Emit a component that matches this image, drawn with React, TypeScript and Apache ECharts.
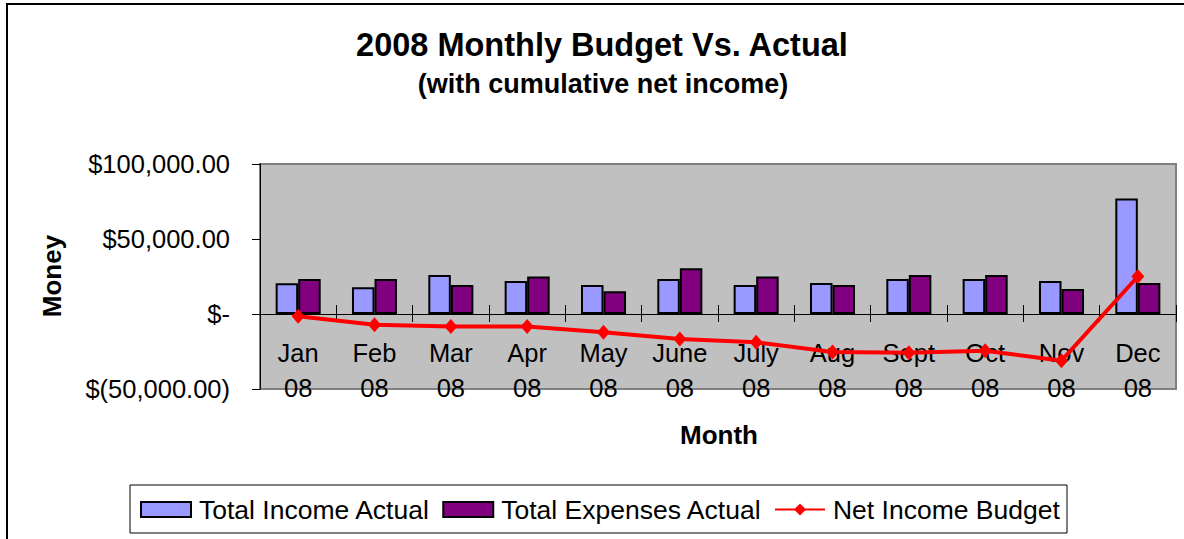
import React, { useEffect, useRef } from "react";
import * as echarts from "echarts";

const months = ["Jan", "Feb", "Mar", "Apr", "May", "June", "July", "Aug", "Sept", "Oct", "Nov", "Dec"];
const yearLabel = "08";
const incomeActual = [20500, 17900, 26000, 22000, 19400, 23400, 19400, 20700, 23400, 23400, 22000, 77000];
const expensesActual = [23400, 23400, 19400, 25000, 15200, 30500, 25000, 19400, 26000, 26000, 16600, 20700];
const netIncomeBudget = [-1500, -7100, -8400, -8400, -12100, -16600, -18800, -25400, -25800, -24500, -31100, 25000];
const yTicks = [-50000, 0, 50000, 100000];

const FONT = "'Liberation Sans', Arial, sans-serif";

function money(v: number): string {
  if (v === 0) return "$-";
  const s = Math.abs(v).toLocaleString("en-US", { minimumFractionDigits: 2, maximumFractionDigits: 2 });
  return v < 0 ? `$(${s})` : `$${s}`;
}

export default function App() {
  const ref = useRef<HTMLDivElement>(null);
  useEffect(() => {
    if (!ref.current) return;
    const chart = echarts.init(ref.current, undefined, { renderer: "svg" });
    const cats = months.map((m) => `${m}\n${yearLabel}`);
    chart.setOption({
      animation: false,
      backgroundColor: "#ffffff",
      textStyle: { fontFamily: FONT, color: "#000" },
      grid: {
        left: 260,
        top: 164,
        width: 916,
        height: 225,
        show: true,
        backgroundColor: "#C0C0C0",
        borderColor: "#808080",
        borderWidth: 2,
        containLabel: false,
      },
      xAxis: [
        {
          type: "category",
          data: cats,
          position: "bottom",
          offset: -75,
          axisLine: { onZero: false, lineStyle: { color: "#000", width: 1 } },
          axisTick: { show: true, length: 8, lineStyle: { color: "#000" } },
          axisLabel: {
            color: "#000",
            fontFamily: FONT,
            fontSize: 25.5,
            lineHeight: 35,
            margin: 21,
            interval: 0,
          },
          splitLine: { show: false },
          z: 3,
        },
        {
          type: "category",
          data: cats,
          position: "bottom",
          offset: -75,
          axisLine: { show: false, onZero: false },
          axisTick: { show: true, inside: true, length: 9, lineStyle: { color: "#000" } },
          axisLabel: { show: false },
          splitLine: { show: false },
        },
      ],
      yAxis: {
        type: "value",
        min: yTicks[0],
        max: yTicks[yTicks.length - 1],
        interval: 50000,
        axisLine: { show: true, lineStyle: { color: "#000", width: 1 } },
        axisTick: { show: true, length: 8, lineStyle: { color: "#000" } },
        axisLabel: {
          color: "#000",
          fontFamily: FONT,
          fontSize: 25.5,
          margin: 30,
          formatter: (v: number) => money(v),
        },
        splitLine: { show: false },
      },
      legend: {
        left: 140,
        top: 496,
        padding: 0,
        itemWidth: 50,
        itemHeight: 15,
        itemGap: 12,
        textStyle: { fontFamily: FONT, fontSize: 26.5, color: "#000", padding: [0, 0, 0, 3] },
        data: [
          { name: "Total Income Actual", icon: "rect" },
          { name: "Total Expenses Actual", icon: "rect" },
          { name: "Net Income Budget" },
        ],
      },
      graphic: [
        {
          type: "rect",
          z: -10,
          silent: true,
          shape: { x: 7, y: 4, width: 1300, height: 700 },
          style: { fill: "none", stroke: "#000", lineWidth: 2 },
        },
        {
          type: "rect",
          z: -5,
          silent: true,
          shape: { x: 130, y: 485, width: 937, height: 48 },
          style: { fill: "#fff", stroke: "#000", lineWidth: 1 },
        },
        {
          type: "text",
          x: 602,
          y: 45,
          style: {
            text: "2008 Monthly Budget Vs. Actual",
            font: `bold 32.5px ${FONT}`,
            fill: "#000",
            textAlign: "center",
            textVerticalAlign: "middle",
          },
        },
        {
          type: "text",
          x: 603,
          y: 84,
          style: {
            text: "(with cumulative net income)",
            font: `bold 27px ${FONT}`,
            fill: "#000",
            textAlign: "center",
            textVerticalAlign: "middle",
          },
        },
        {
          type: "text",
          x: 52,
          y: 276,
          rotation: Math.PI / 2,
          style: {
            text: "Money",
            font: `bold 26px ${FONT}`,
            fill: "#000",
            textAlign: "center",
            textVerticalAlign: "middle",
          },
        },
        {
          type: "text",
          x: 719,
          y: 435,
          style: {
            text: "Month",
            font: `bold 26px ${FONT}`,
            fill: "#000",
            textAlign: "center",
            textVerticalAlign: "middle",
          },
        },
      ],
      series: [
        {
          name: "Total Income Actual",
          type: "bar",
          data: incomeActual,
          barGap: "0%",
          barCategoryGap: "41%",
          itemStyle: { color: "#9999FF", borderColor: "#000", borderWidth: 2 },
        },
        {
          name: "Total Expenses Actual",
          type: "bar",
          data: expensesActual,
          barGap: "0%",
          barCategoryGap: "41%",
          itemStyle: { color: "#800080", borderColor: "#000", borderWidth: 2 },
        },
        {
          name: "Net Income Budget",
          type: "line",
          data: netIncomeBudget,
          z: 5,
          symbol: "diamond",
          symbolSize: [13, 15],
          lineStyle: { color: "#FF0000", width: 4 },
          itemStyle: { color: "#FF0000" },
        },
      ],
    });
    return () => chart.dispose();
  }, []);
  return (
    <div
      ref={ref}
      style={{ position: "absolute", left: 0, top: 0, width: 1184, height: 539 }}
    />
  );
}
